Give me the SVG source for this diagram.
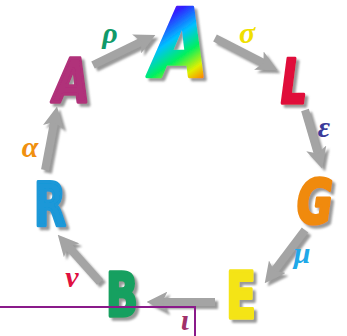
<svg xmlns="http://www.w3.org/2000/svg" width="347" height="336" viewBox="0 0 347 336">
<defs>
<filter id="sh" x="-20%" y="-20%" width="150%" height="150%">
<feDropShadow dx="3" dy="3" stdDeviation="1" flood-color="#808080" flood-opacity="0.8"/>
</filter>
<linearGradient id="rb" x1="0.4" y1="0" x2="0.8" y2="1">
<stop offset="0" stop-color="#c000e0"/>
<stop offset="0.2" stop-color="#3020ff"/>
<stop offset="0.4" stop-color="#00c0ff"/>
<stop offset="0.58" stop-color="#00f060"/>
<stop offset="0.75" stop-color="#e0f000"/>
<stop offset="0.88" stop-color="#ff8000"/>
<stop offset="1" stop-color="#ff0000"/>
</linearGradient>
<marker id="ah" viewBox="0 0 10 10" markerWidth="2.6" markerHeight="2.6" refX="5" refY="5" orient="auto">
<path d="M0,0 L10,5 L0,10 L2.5,5 Z" fill="#a4a4a4"/>
</marker>
</defs>
<style>
.L{font-family:"DejaVu Sans",sans-serif;font-weight:bold;text-anchor:middle;stroke-linejoin:round;stroke-linecap:round;stroke-width:3.5;filter:url(#sh)}
.g{font-family:"Liberation Serif",serif;font-style:italic;font-weight:bold;font-size:30px;text-anchor:middle}
.c{stroke:#a4a4a4;stroke-width:8;fill:none;marker-end:url(#ah)}
</style>
<rect width="347" height="336" fill="#ffffff"/>
<g id="connectors" filter="url(#sh)">
<line class="c" x1="93" y1="65" x2="146" y2="39.4"/>
<line class="c" x1="215" y1="38" x2="268.1" y2="65.4"/>
<line class="c" x1="305" y1="110" x2="319.2" y2="158.4"/>
<line class="c" x1="305" y1="230" x2="271" y2="275"/>
<line class="c" x1="215" y1="302" x2="157" y2="302"/>
<line class="c" x1="100" y1="282" x2="64.7" y2="242.5"/>
<line class="c" x1="45" y1="170" x2="55.1" y2="116.8"/>
</g>
<g id="nodeA1"><text class="L" x="180" y="77" font-size="94" font-style="italic" fill="url(#rb)" stroke="url(#rb)" textLength="57" lengthAdjust="spacingAndGlyphs">A</text></g>
<g id="nodeL"><text class="L" x="294" y="103" font-size="61" font-style="italic" fill="#e0103a" stroke="#e0103a" textLength="26" lengthAdjust="spacingAndGlyphs">L</text></g>
<g id="nodeG"><text class="L" x="315" y="223" font-size="61" font-style="italic" fill="#f08a10" stroke="#f08a10" textLength="36" lengthAdjust="spacingAndGlyphs">G</text></g>
<g id="nodeE"><text class="L" x="241" y="318" font-size="64" fill="#f4e418" stroke="#f4e418" textLength="30" lengthAdjust="spacingAndGlyphs">E</text></g>
<g id="nodeB"><text class="L" x="122" y="316" font-size="60" fill="#18a060" stroke="#18a060" textLength="32" lengthAdjust="spacingAndGlyphs">B</text></g>
<g id="nodeR"><text class="L" x="50" y="226" font-size="60" fill="#1a98d8" stroke="#1a98d8" textLength="32" lengthAdjust="spacingAndGlyphs">R</text></g>
<g id="nodeA2"><text class="L" x="72" y="102" font-size="60" font-style="italic" fill="#b0307a" stroke="#b0307a" textLength="36" lengthAdjust="spacingAndGlyphs">A</text></g>
<g id="labels">
<text class="g" x="110" y="43" fill="#109a6a">ρ</text>
<text class="g" x="247" y="43" fill="#f0e000">σ</text>
<text class="g" x="324" y="137" fill="#3a3a9a">ε</text>
<text class="g" x="302" y="263" fill="#20a8e8">μ</text>
<text class="g" x="185" y="330" fill="#a0306a">ι</text>
<text class="g" x="72" y="287" fill="#e01040">ν</text>
<text class="g" x="30" y="157" fill="#f09010">α</text>
</g>
<path d="M0,307 H195 V336" fill="none" stroke="#8a1a8a" stroke-width="2"/>
</svg>
